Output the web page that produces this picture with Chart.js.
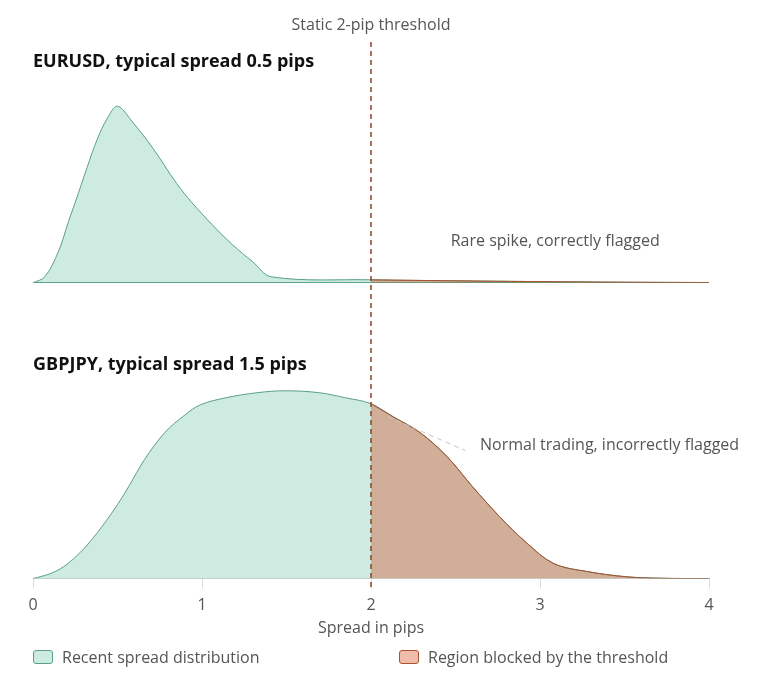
<!DOCTYPE html>
<html>
<head>
<meta charset="utf-8">
<script src="https://cdn.jsdelivr.net/npm/chart.js@4.4.1/dist/chart.umd.min.js"></script>
<style>
  body { margin: 0; background: #fff; }
  #wrap { position: relative; width: 767px; height: 676px; }
  #legend { position: absolute; left: 33px; top: 646px; display: flex; font: 16px 'Open Sans', 'Noto Sans', sans-serif; color: #555; }
  #legend .item { display: flex; align-items: center; width: 366px; }
  #legend .box { width: 18px; height: 12px; border-radius: 3px; border: 1px solid; margin-right: 9px; }
</style>
</head>
<body>
<div id="wrap">
  <canvas id="spreadChart"></canvas>
  <div id="legend"></div>
</div>
<script>
// spread values (pips) and density
const eurusdSpread = [0, 0.07, 0.15, 0.21, 0.27, 0.32, 0.38, 0.44, 0.5, 0.59, 0.71, 0.85, 0.94, 1.06, 1.18, 1.3, 1.41, 2.0, 2.5, 3.0, 3.5, 4.0];
const eurusdDensity = [0, 0.06, 0.31, 0.61, 0.9, 1.15, 1.43, 1.64, 1.76, 1.6, 1.34, 0.99, 0.8, 0.58, 0.38, 0.21, 0.06, 0.03, 0.02, 0.012, 0.006, 0.003];

const gbpjpySpread = [0, 0.1, 0.18, 0.26, 0.34, 0.42, 0.5, 0.57, 0.66, 0.78, 0.9, 0.99, 1.14, 1.33, 1.49, 1.69, 1.85, 2.0, 2.13, 2.29, 2.45, 2.6, 2.76, 2.92, 3.08, 3.28, 3.51, 3.71, 4.0];
const gbpjpyDensity = [0, 0.013, 0.032, 0.062, 0.101, 0.148, 0.2, 0.252, 0.322, 0.395, 0.443, 0.47, 0.489, 0.503, 0.508, 0.503, 0.489, 0.473, 0.438, 0.395, 0.33, 0.249, 0.168, 0.097, 0.041, 0.019, 0.005, 0.001, 0];

const threshold = 2;
const xTicks = [0, 1, 2, 3, 4];
const legendLabels = ["Recent spread distribution", "Region blocked by the threshold"];
const panelTitles = ["EURUSD, typical spread 0.5 pips", "GBPJPY, typical spread 1.5 pips"];

const FONT = "'Open Sans', 'Noto Sans', sans-serif";
const greenFill = "rgba(102, 194, 165, 0.33)";
const greenLine = "#5a9f88";
const brownFill = "rgba(213, 76, 31, 0.38)";
const brownLine = "rgb(168, 82, 48)";

const toPoints = (xs, ys) => xs.map((x, i) => ({ x: x, y: ys[i] }));
const aboveThreshold = (pts) => pts.filter((p) => p.x >= threshold);

const eurusdPoints = toPoints(eurusdSpread, eurusdDensity);
const gbpjpyPoints = toPoints(gbpjpySpread, gbpjpyDensity);

const lineStyle = {
  type: "line",
  fill: "origin",
  borderWidth: 1,
  pointRadius: 0,
  tension: 0.35,
};

// threshold line, panel titles and notes
const overlayPlugin = {
  id: "overlay",
  afterDatasetsDraw(chart) {
    const { ctx, chartArea, scales } = chart;
    const x = scales.x;
    const yTop = scales.yTop;
    const yBottom = scales.yBottom;
    const tx = x.getPixelForValue(threshold);

    ctx.save();

    // leader line for the lower note
    ctx.strokeStyle = "#c4c4c4";
    ctx.lineWidth = 1;
    ctx.setLineDash([5, 4]);
    ctx.beginPath();
    ctx.moveTo(x.getPixelForValue(2.1), yBottom.getPixelForValue(0.438));
    ctx.lineTo(x.getPixelForValue(2.56), yBottom.getPixelForValue(0.346));
    ctx.stroke();

    ctx.strokeStyle = "#8e4129";
    ctx.lineWidth = 1.5;
    ctx.setLineDash([5, 4]);
    ctx.beginPath();
    ctx.moveTo(tx, chartArea.top);
    ctx.lineTo(tx, chartArea.bottom + 10);
    ctx.stroke();
    ctx.setLineDash([]);

    ctx.textBaseline = "middle";
    ctx.fillStyle = "#555";
    ctx.font = "16px " + FONT;
    ctx.textAlign = "center";
    ctx.fillText("Static 2-pip threshold", tx, chartArea.top - 17);
    ctx.fillText("Rare spike, correctly flagged", x.getPixelForValue(3.09), yTop.getPixelForValue(0.41));
    ctx.textAlign = "left";
    ctx.fillText("Normal trading, incorrectly flagged", x.getPixelForValue(2.645), yBottom.getPixelForValue(0.36));

    ctx.fillStyle = "#111";
    ctx.font = "bold 18px " + FONT;
    ctx.fillText(panelTitles[0], x.getPixelForValue(0), yTop.getPixelForValue(2.2));
    ctx.fillText(panelTitles[1], x.getPixelForValue(0), yBottom.getPixelForValue(0.578));

    ctx.restore();
  },
};

const chart = new Chart(document.getElementById("spreadChart"), {
  data: {
    datasets: [
      { ...lineStyle, label: legendLabels[0], data: eurusdPoints, yAxisID: "yTop", borderColor: greenLine, backgroundColor: greenFill, order: 2 },
      { ...lineStyle, label: legendLabels[0], data: gbpjpyPoints, yAxisID: "yBottom", borderColor: greenLine, backgroundColor: greenFill, order: 2 },
      { ...lineStyle, label: legendLabels[1], data: aboveThreshold(eurusdPoints), yAxisID: "yTop", borderColor: brownLine, backgroundColor: brownFill, order: 1 },
      { ...lineStyle, label: legendLabels[1], data: aboveThreshold(gbpjpyPoints), yAxisID: "yBottom", borderColor: brownLine, backgroundColor: brownFill, order: 1 },
    ],
  },
  options: {
    responsive: true,
    maintainAspectRatio: false,
    animation: false,
    layout: { padding: { top: 42, right: 58, left: 0, bottom: 38 } },
    scales: {
      x: {
        type: "linear",
        min: 0,
        max: 4,
        afterBuildTicks: (scale) => {
          scale.ticks = xTicks.map((v) => ({ value: v }));
        },
        ticks: { color: "#555", font: { family: FONT, size: 16 }, padding: 7 },
        grid: { drawOnChartArea: false, drawTicks: true, tickLength: 10, color: "#dcdcdc" },
        border: { color: "#cfcfcf" },
        title: { display: true, text: "Spread in pips", color: "#555", font: { family: FONT, size: 16 }, padding: { top: -3, bottom: 0 } },
      },
      yBottom: {
        type: "linear",
        position: "left",
        stack: "panels",
        stackWeight: 296,
        weight: 1,
        min: 0,
        max: 0.8,
        ticks: { display: false },
        grid: { display: false },
        border: { display: false },
        afterFit: (scale) => { scale.width = 33; },
      },
      yTop: {
        type: "linear",
        position: "left",
        stack: "panels",
        stackWeight: 241,
        weight: 2,
        min: 0,
        max: 2.4,
        ticks: { display: false },
        grid: {
          drawTicks: false,
          color: (c) => (c.tick && c.tick.value === 0 ? greenLine : "rgba(0,0,0,0)"),
        },
        border: { display: false },
        afterFit: (scale) => { scale.width = 33; },
      },
    },
    plugins: {
      tooltip: { enabled: false },
      legend: { display: false },
    },
  },
  plugins: [overlayPlugin],
});

// html legend built from the chart's own legend items
const legendEl = document.getElementById("legend");
Chart.defaults.plugins.legend.labels
  .generateLabels(chart)
  .filter((item) => item.datasetIndex === 0 || item.datasetIndex === 2)
  .sort((a, b) => a.datasetIndex - b.datasetIndex)
  .forEach((item) => {
    const row = document.createElement("div");
    row.className = "item";
    const box = document.createElement("span");
    box.className = "box";
    box.style.background = item.fillStyle;
    box.style.borderColor = item.strokeStyle;
    const label = document.createElement("span");
    label.textContent = item.text;
    row.appendChild(box);
    row.appendChild(label);
    legendEl.appendChild(row);
  });
</script>
</body>
</html>
